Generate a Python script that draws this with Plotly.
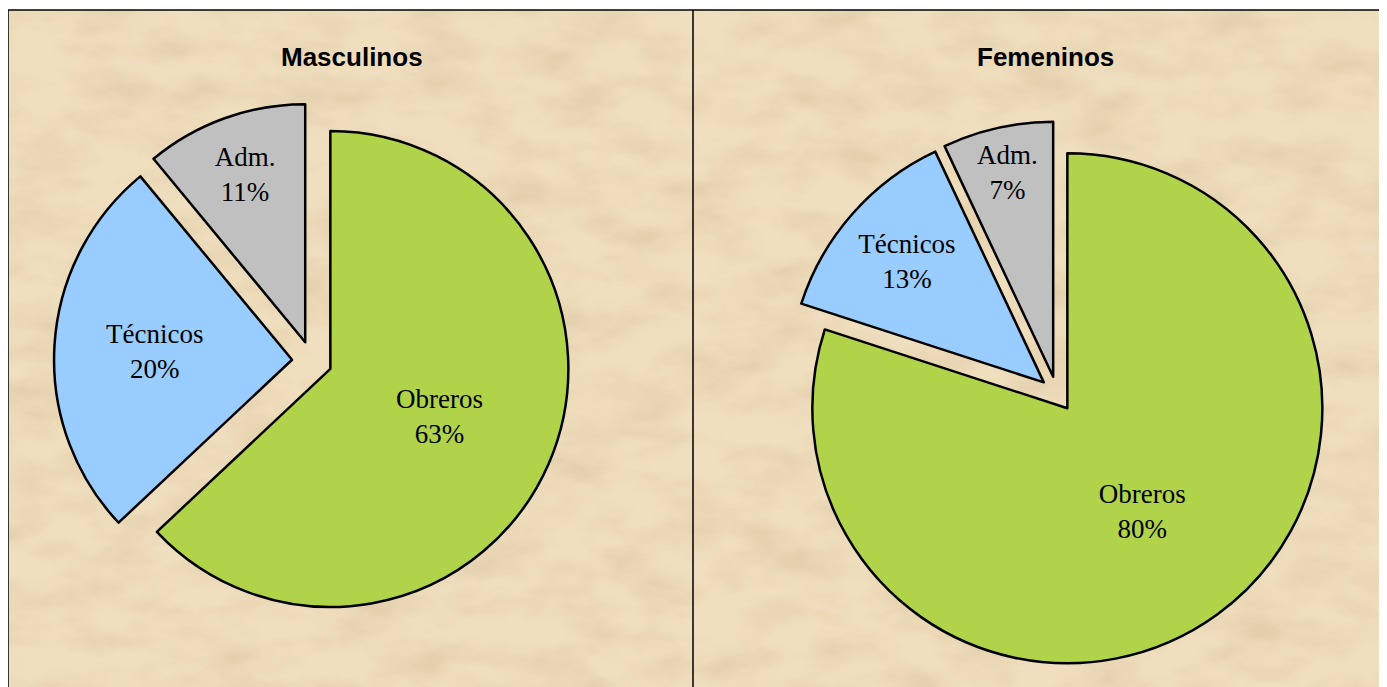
import base64
import plotly.graph_objects as go

W, H = 1387, 687
OFF = 8  # la página añade 8 px de margen al cuerpo

# Datos
categorias = ["Obreros", "Técnicos", "Adm."]
masculinos = [63, 26, 11]              # parte dibujada de cada sector
masculinos_txt = ["63%", "20%", "11%"]  # porcentajes rotulados en el original
femeninos = [80, 13, 7]
femeninos_txt = ["80%", "13%", "7%"]

colores = ["#b0d34a", "#99ccff", "#c0c0c0"]


def px(x):
    return (x - OFF) / W


def py(y):
    return 1 - (y - OFF) / H


def dominio(cx, cy, r, pull):
    # caja del pie en coordenadas de papel a partir del centro y radio en px
    half = r * (1 + pull)
    return dict(x=[px(cx - half), px(cx + half)],
                y=[py(cy + half), py(cy - half)])


def pie(valores, textos, dom, pull):
    return go.Pie(
        labels=categorias,
        values=valores,
        text=[f"{c}<br>{t}" for c, t in zip(categorias, textos)],
        textinfo="text",
        textposition="inside",
        insidetextorientation="horizontal",
        textfont=dict(family="Liberation Serif, Times New Roman, serif", size=27, color="black"),
        sort=False,
        direction="clockwise",
        rotation=0,
        pull=[pull] * 3,
        marker=dict(colors=colores, line=dict(color="black", width=2.5)),
        domain=dom,
        showlegend=False,
        hoverinfo="label+value",
    )


# textura de pergamino (ruido procedimental de SVG)
svg = (
    "<svg xmlns='http://www.w3.org/2000/svg' width='1380' height='680'>"
    "<filter id='n' x='0' y='0' width='100%' height='100%'>"
    "<feTurbulence type='fractalNoise' baseFrequency='0.015 0.03' numOctaves='5' seed='11'/>"
    "<feColorMatrix type='matrix' values='0 0 0 0 0.64  0 0 0 0 0.50  0 0 0 0 0.30  0 0 0 1.6 -0.55'/>"
    "</filter>"
    "<rect width='100%' height='100%' fill='#f0dfbf'/>"
    "<rect width='100%' height='100%' filter='url(#n)' opacity='0.5'/>"
    "</svg>"
)
textura = "data:image/svg+xml;base64," + base64.b64encode(svg.encode()).decode()

fig = go.Figure()
fig.add_trace(pie(masculinos, masculinos_txt, dominio(312, 361, 238, 0.084), 0.084))
fig.add_trace(pie(femeninos, femeninos_txt, dominio(1057, 394, 255, 0.069), 0.069))

x0, y0, xm = px(8), py(10), px(693)

fig.add_layout_image(
    source=textura, xref="paper", yref="paper",
    x=x0, y=y0, sizex=1 - x0, sizey=y0,
    xanchor="left", yanchor="top", sizing="stretch", layer="below",
)

linea = dict(color="black", width=1.5)
fig.add_shape(type="line", xref="paper", yref="paper", x0=x0, x1=x0, y0=0, y1=y0, line=linea)
fig.add_shape(type="line", xref="paper", yref="paper", x0=x0, x1=1, y0=y0, y1=y0, line=linea)
fig.add_shape(type="line", xref="paper", yref="paper", x0=xm, x1=xm, y0=0, y1=y0, line=linea)

titulo_font = dict(family="Liberation Sans, Arial, sans-serif", size=26, color="black")
for txt, xc in [("<b>Masculinos</b>", 352), ("<b>Femeninos</b>", 1045)]:
    fig.add_annotation(text=txt, xref="paper", yref="paper", x=px(xc), y=py(57),
                       showarrow=False, font=titulo_font, xanchor="center", yanchor="middle")

fig.update_layout(
    width=W,
    height=H,
    autosize=False,
    margin=dict(l=0, r=0, t=0, b=0),
    paper_bgcolor="white",
    plot_bgcolor="white",
    uniformtext=dict(minsize=27, mode="show"),
)

fig.write_html("out.html")
